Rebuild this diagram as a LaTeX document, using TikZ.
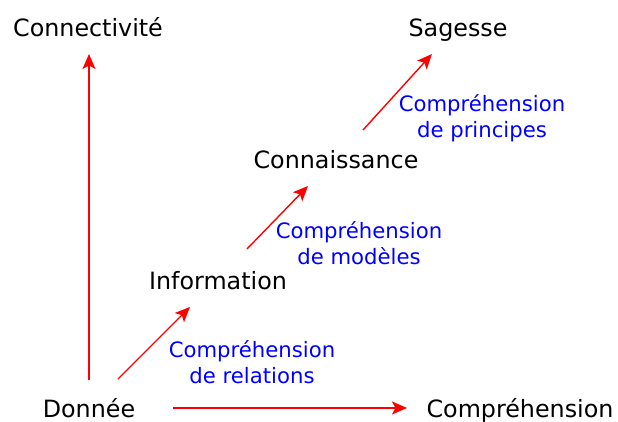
\documentclass[tikz,border=0pt]{standalone}
\usepackage{fontspec}
\setmainfont{DejaVu Sans}
\usetikzlibrary{arrows.meta}
\begin{document}
\begin{tikzpicture}[x=1pt,y=-1pt,
  lab/.style={anchor=base,inner sep=0pt,font=\fontsize{23.8}{28}\selectfont,text=black},
  sub/.style={anchor=base,inner sep=0pt,font=\fontsize{21.2}{26}\selectfont,text=blue},
  arr/.style={draw=red,line width=1.4pt,-{Stealth[length=15pt,width=13pt,inset=3.5pt]}}]
\useasboundingbox (0,0) rectangle (618,422);
\node[lab] (con) at (88,37) {Connectivité};
\node[lab] (sag) at (458,37) {Sagesse};
\node[lab] (kno) at (336,169) {Connaissance};
\node[lab] (inf) at (218,289) {Information};
\node[lab] (don) at (89,417) {Donnée};
\node[lab] (com) at (520,417) {Compréhension};
\node[sub] (p1) at (482,112) {Compréhension};
\node[sub] (p2) at (482,138) {de principes};
\node[sub] (m1) at (359,238) {Compréhension};
\node[sub] (m2) at (359,264) {de modèles};
\node[sub] (r1) at (252,357) {Compréhension};
\node[sub] (r2) at (252,383) {de relations};
\coordinate (a0) at (89,380);  \coordinate (a1) at (89,54);
\coordinate (b0) at (118,379); \coordinate (b1) at (190,307);
\coordinate (c0) at (247,249); \coordinate (c1) at (308,186);
\coordinate (d0) at (363,130); \coordinate (d1) at (432,54);
\coordinate (e0) at (173,408); \coordinate (e1) at (407,408);
\draw[arr] (a0) -- (a1);
\draw[arr] (b0) -- (b1);
\draw[arr] (c0) -- (c1);
\draw[arr] (d0) -- (d1);
\draw[arr] (e0) -- (e1);
\end{tikzpicture}
\end{document}
